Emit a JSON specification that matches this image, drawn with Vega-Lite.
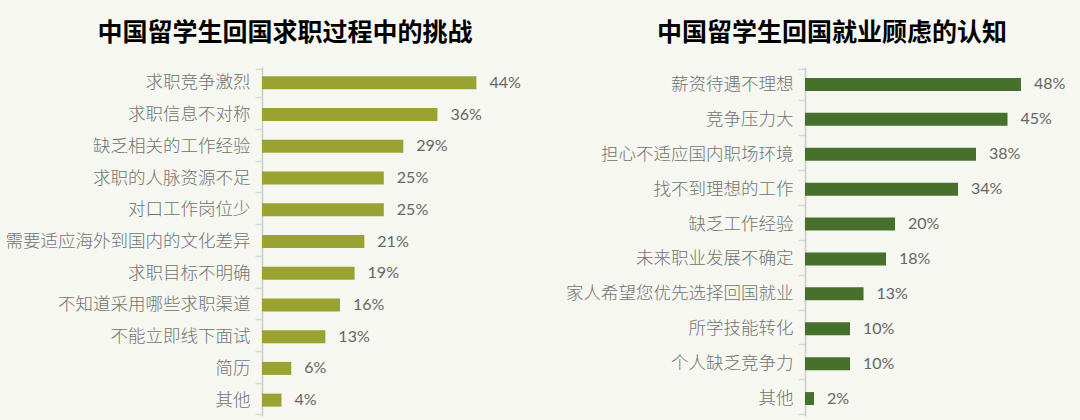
{
  "$schema": "https://vega.github.io/schema/vega-lite/v6.json",
  "background": "#f5f7f0",
  "padding": {"left": 5, "top": 21, "right": 5, "bottom": 4},
  "spacing": 35,
  "datasets": {
    "challenges": [
      {"item": "求职竞争激烈", "pct": 0.44},
      {"item": "求职信息不对称", "pct": 0.36},
      {"item": "缺乏相关的工作经验", "pct": 0.29},
      {"item": "求职的人脉资源不足", "pct": 0.25},
      {"item": "对口工作岗位少", "pct": 0.25},
      {"item": "需要适应海外到国内的文化差异", "pct": 0.21},
      {"item": "求职目标不明确", "pct": 0.19},
      {"item": "不知道采用哪些求职渠道", "pct": 0.16},
      {"item": "不能立即线下面试", "pct": 0.13},
      {"item": "简历", "pct": 0.06},
      {"item": "其他", "pct": 0.04}
    ],
    "concerns": [
      {"item": "薪资待遇不理想", "pct": 0.48},
      {"item": "竞争压力大", "pct": 0.45},
      {"item": "担心不适应国内职场环境", "pct": 0.38},
      {"item": "找不到理想的工作", "pct": 0.34},
      {"item": "缺乏工作经验", "pct": 0.20},
      {"item": "未来职业发展不确定", "pct": 0.18},
      {"item": "家人希望您优先选择回国就业", "pct": 0.13},
      {"item": "所学技能转化", "pct": 0.10},
      {"item": "个人缺乏竞争力", "pct": 0.10},
      {"item": "其他", "pct": 0.02}
    ]
  },
  "hconcat": [
    {
      "title": {"text": "中国留学生回国求职过程中的挑战", "dx": -111},
      "width": 268,
      "height": 349,
      "data": {"name": "challenges"},
      "encoding": {
        "y": {"field": "item", "type": "nominal", "sort": null, "title": null},
        "x": {"field": "pct", "type": "quantitative", "scale": {"domain": [0, 0.55]}, "axis": null}
      },
      "layer": [
        {"mark": {"type": "bar", "height": 13, "color": "#9aa331"}},
        {
          "mark": {"type": "text", "align": "left", "dx": 13, "fontSize": 16, "color": "#666666", "font": "Lato"},
          "encoding": {"text": {"field": "pct", "type": "quantitative", "format": ".0%"}}
        }
      ]
    },
    {
      "title": {"text": "中国留学生回国就业顾虑的认知", "dx": -108},
      "width": 270,
      "height": 349,
      "data": {"name": "concerns"},
      "encoding": {
        "y": {"field": "item", "type": "nominal", "sort": null, "title": null},
        "x": {"field": "pct", "type": "quantitative", "scale": {"domain": [0, 0.6]}, "axis": null}
      },
      "layer": [
        {"mark": {"type": "bar", "height": 13, "color": "#46702c"}},
        {
          "mark": {"type": "text", "align": "left", "dx": 13, "fontSize": 16, "color": "#666666", "font": "Lato"},
          "encoding": {"text": {"field": "pct", "type": "quantitative", "format": ".0%"}}
        }
      ]
    }
  ],
  "config": {
    "view": {"stroke": null},
    "font": "Noto Sans CJK SC",
    "title": {"fontSize": 25, "fontWeight": "bold", "color": "#000000", "offset": 12, "anchor": "middle", "font": "Noto Sans CJK SC"},
    "axisY": {
      "tickBand": "extent",
      "tickSize": 7,
      "tickColor": "#d9d9d9",
      "tickWidth": 1.5,
      "domainColor": "#cccccc",
      "domainWidth": 1.5,
      "labelFontSize": 17.5,
      "labelColor": "#737373",
      "labelPadding": 5,
      "labelFont": "Noto Sans CJK SC",
      "labelFontWeight": 300,
      "labelLimit": 400
    }
  }
}
